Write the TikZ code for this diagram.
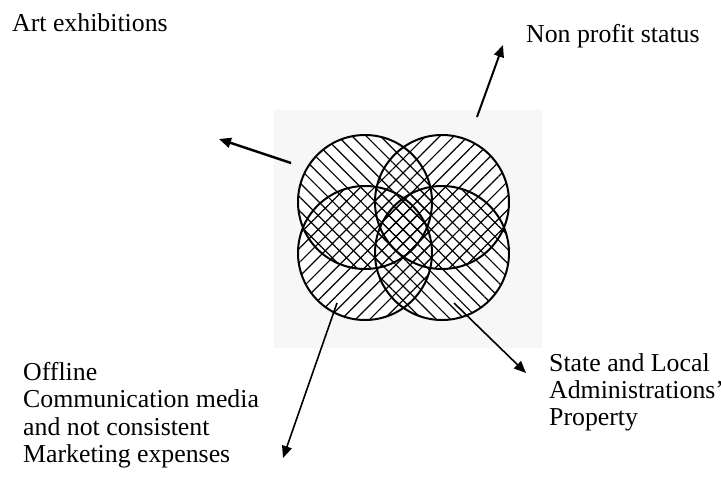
\documentclass[tikz,border=0pt]{standalone}
\usepackage{fontspec}
\setmainfont{Liberation Serif}
\usetikzlibrary{patterns.meta,arrows.meta}
\begin{document}
\begin{tikzpicture}[x=1pt,y=-1pt,
  lbl/.style={font=\fontsize{25.8}{27.4}\selectfont, inner sep=0pt, align=left, anchor=north west},
  ring/.style={draw=black, line width=2pt},
  arr/.style={draw=black, line width=1.7pt, -{Triangle[length=12pt,width=10pt]}},
  hatchA/.style={pattern={Lines[angle=-45,distance=10pt,line width=1.2pt]}},
  hatchB/.style={pattern={Lines[angle=45,distance=10pt,line width=1.2pt]}}
]
\useasboundingbox (0,0) rectangle (721,477);
\fill[black!3] (274,110) rectangle (542,348);

% circles: white ground
\foreach \p in {(365,202),(442,202),(365,253),(442,253)}
  \fill[white] \p circle[radius=67pt];
% hatching
\path[hatchA] (365,202) circle[radius=67pt];
\path[hatchB] (442,202) circle[radius=67pt];
\path[hatchB] (365,253) circle[radius=67pt];
\path[hatchA] (442,253) circle[radius=67pt];
% outlines
\foreach \p in {(365,202),(442,202),(365,253),(442,253)}
  \draw[ring] \p circle[radius=67pt];

% labels
\node[lbl] (art) at (12,13) {Art exhibitions};
\node[lbl] (npo) at (526,24) {Non profit status};
\node[lbl] (off) at (23,362) {Offline\\Communication media\\and not consistent\\Marketing expenses};
\node[lbl] (state) at (549,353) {State and Local\\Administrations’\\Property};

% arrow ends
\coordinate (artFrom) at (291,163);
\coordinate (artTo) at (219,139);
\coordinate (npoFrom) at (477,117);
\coordinate (npoTo) at (503,45);
\coordinate (offFrom) at (337,303);
\coordinate (offTo) at (283,458);
\coordinate (stFrom) at (454,303);
\coordinate (stTo) at (526,373);

\draw[arr, line width=2.4pt] (artFrom) -- (artTo);
\draw[arr, line width=2pt] (npoFrom) -- (npoTo);
\draw[arr, line width=1.6pt] (offFrom) -- (offTo);
\draw[arr, line width=1.6pt] (stFrom) -- (stTo);
\end{tikzpicture}
\end{document}
